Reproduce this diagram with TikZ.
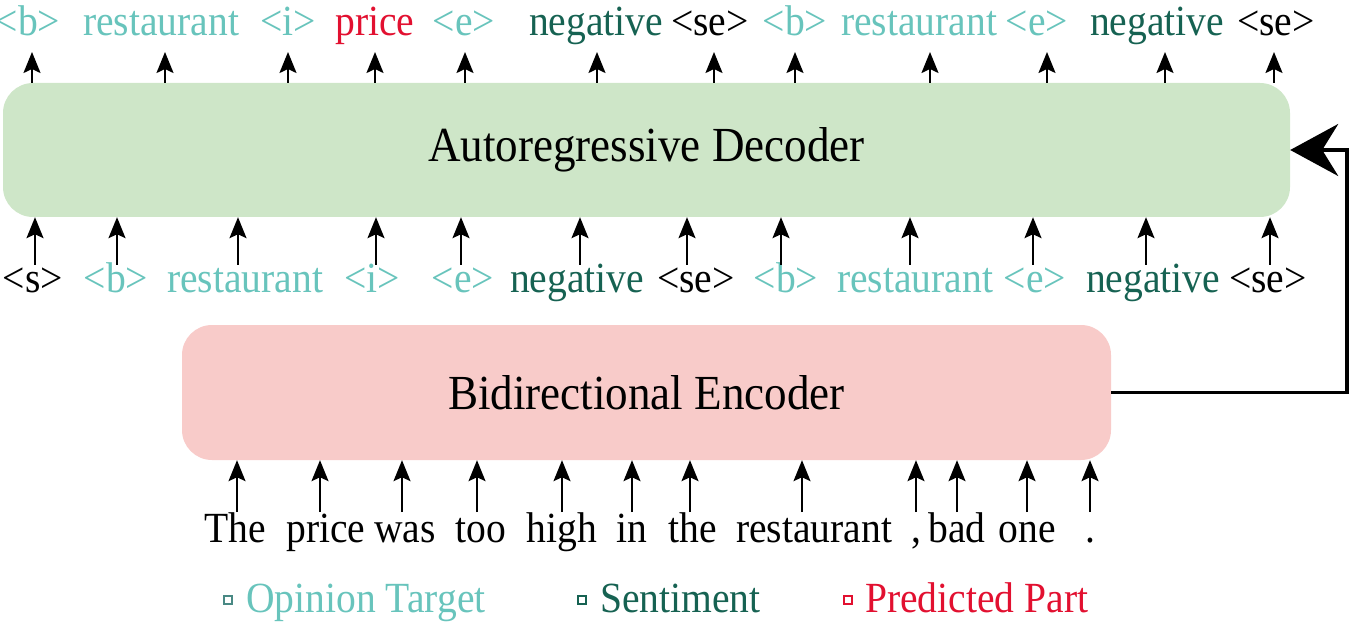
\documentclass[tikz,border=0pt]{standalone}
\usepackage{fontspec}
\setmainfont{Liberation Serif}[FakeStretch=0.92]
\usetikzlibrary{arrows.meta,positioning,calc}
\definecolor{tgtCol}{RGB}{104,196,188}
\definecolor{sntCol}{RGB}{22,98,82}
\definecolor{prdCol}{RGB}{226,16,48}
\definecolor{decFill}{RGB}{206,230,200}
\definecolor{encFill}{RGB}{248,203,201}
\tikzset{
	mbox/.style={
		rounded corners=30pt,
		inner sep=0pt,
		font=\fontsize{49}{56}\selectfont
	},
	tok/.style={anchor=base, inner sep=0pt, font=\fontsize{43}{50}\selectfont},
	uarr/.style={-{Stealth[length=21pt,width=17pt,inset=4pt]}, line width=2pt},
	fbarr/.style={-{Stealth[length=48pt,width=52pt,inset=16pt]}, line width=3.5pt}
}

\begin{document}
\begin{tikzpicture}[x=1pt, y=1pt]
	\useasboundingbox (0,0) rectangle (1350,625);
	\node[mbox, fill=decFill, minimum width=1287pt, minimum height=134pt] (dec) at (646.5,475) {Autoregressive Decoder};
	\node[mbox, fill=encFill, minimum width=929pt, minimum height=135pt] (enc) at (646.5,232.5) {Bidirectional Encoder};
	% decoder output (text x / arrow x)
	\foreach \x/\a/\t/\c [count=\i] in {28/32/{<b>}/tgtCol, 161/165/restaurant/tgtCol, 288/288/{<i>}/tgtCol, 375/375/price/prdCol, 464/465/{<e>}/tgtCol, 596/597/negative/sntCol, 710/714/{<se>}/black, 795/795/{<b>}/tgtCol, 919/930/restaurant/tgtCol, 1037/1047/{<e>}/tgtCol, 1157/1165/negative/sntCol, 1276/1274/{<se>}/black}{
		\node[tok, text=\c] (out\i) at (\x,589) {\t};
		\coordinate (outa\i) at (\a,573);
		\draw[uarr] (outa\i |- dec.north) -- (outa\i);
	}
	% decoder input
	\foreach \x/\a/\t/\c [count=\i] in {33/35/{<s>}/black, 116/117/{<b>}/tgtCol, 245/238/restaurant/tgtCol, 372/376/{<i>}/tgtCol, 463/461/{<e>}/tgtCol, 577/580/negative/sntCol, 696/687/{<se>}/black, 786/781/{<b>}/tgtCol, 915/910/restaurant/tgtCol, 1035/1033/{<e>}/tgtCol, 1153/1146/negative/sntCol, 1268/1270/{<se>}/black}{
		\node[tok, text=\c] (in\i) at (\x,333) {\t};
		\coordinate (ina\i) at (\a,360);
		\draw[uarr] (ina\i) -- (ina\i |- dec.south);
	}
	% source sentence
	\foreach \x/\a/\t [count=\i] in {235/237/The, 326/320/price, 405/402/was, 481/477/too, 562/562/high, 632/632/in, 693/690/the, 814/802/restaurant, 916/916/{,}, 957/957/bad, 1027/1027/one, 1090/1090/.}{
		\node[tok] (src\i) at (\x,83) {\t};
		\coordinate (srca\i) at (\a,113);
		\draw[uarr] (srca\i) -- (srca\i |- enc.south);
	}
	% encoder to decoder
	\draw[fbarr] (enc.east) -- ++(236,0) |- (dec.east);
	% legend
	\node[draw=tgtCol!70!black, line width=1.5pt, minimum size=8pt, inner sep=0pt] (lg1) at (228,25) {};
	\node[draw=sntCol, line width=1.5pt, minimum size=8pt, inner sep=0pt] (lg2) at (582,25) {};
	\node[draw=prdCol, line width=1.5pt, minimum size=8pt, inner sep=0pt] (lg3) at (848,25) {};
	\node[tok, anchor=base west, text=tgtCol] (lt1) at (246,13) {Opinion Target};
	\node[tok, anchor=base west, text=sntCol] (lt2) at (600,13) {Sentiment};
	\node[tok, anchor=base west, text=prdCol] (lt3) at (865,13) {Predicted Part};
\end{tikzpicture}
\end{document}
